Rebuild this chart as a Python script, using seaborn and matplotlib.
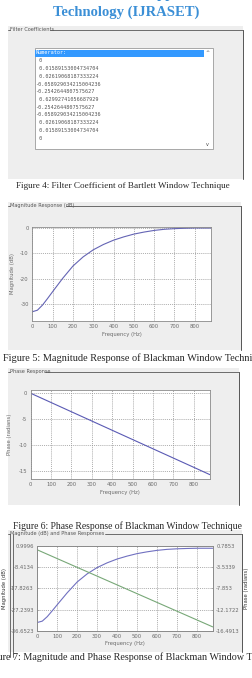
#-- Bartlett / Blackman window FIR filter page (scanned figures 4-7) --#

import numpy as np
import pandas as pd
import matplotlib
matplotlib.use("Agg")
import matplotlib.pyplot as plt
import seaborn as sns
from matplotlib.patches import Rectangle

# filter coefficients shown in the list box (figure 4)
coef_rows = ["Numerator:", " 0", " 0.01589153004734704", " 0.02619068187333224",
             "-0.058929034215004236", "-0.2542644807575627", " 0.62992741056687929",
             "-0.2542644807575627", "-0.058929034215004236", " 0.02619068187333224",
             " 0.01589153004734704", " 0"]

# magnitude response (figures 5 and 7)
freq_hz = [0, 25, 50, 75, 100, 150, 200, 250, 300, 350, 400, 450, 500,
           550, 600, 650, 700, 750, 800, 880]
mag_db = [-33.0, -32.4, -30.4, -27.8, -25.1, -19.8, -15.0, -11.4, -8.6, -6.5,
          -4.8, -3.5, -2.4, -1.6, -0.95, -0.5, -0.25, -0.1, 0.0, 0.0]

# phase response (linear phase), figures 6 and 7
phase_freq = [0, 880]
phase_rad = [0.0, -15.71]

freq_ticks = [0, 100, 200, 300, 400, 500, 600, 700, 800]
mag_ticks_5 = [0, -10, -20, -30]
phase_ticks_6 = [0, -5, -10, -15]
mag_ticks_7 = [0.9996, -8.4134, -17.8263, -27.2393, -36.6523]
phase_ticks_7 = [0.7853, -3.5339, -7.853, -12.1722, -16.4913]

captions = ["Figure 4: Filter Coefficient of Bartlett Window Technique",
            "Figure 5: Magnitude Response of Blackman Window Technique",
            "Figure 6: Phase Response of Blackman Window Technique",
            "Figure 7: Magnitude and Phase Response of Blackman Window Technique"]

mag_df = pd.DataFrame({"freq": freq_hz, "mag": mag_db})
phase_df = pd.DataFrame({"freq": phase_freq, "phase": phase_rad})

sns.set_style("white")
plt.rcParams["font.family"] = ["DejaVu Sans"]
plt.rcParams["axes.unicode_minus"] = False

W, H = 252, 678
fig = plt.figure(figsize=(W / 100, H / 100), dpi=100)
fig.patch.set_facecolor("white")

# page layer in pixel coords
bg = fig.add_axes([0, 0, 1, 1])
bg.set_xlim(0, W)
bg.set_ylim(H, 0)
bg.axis("off")

PANEL = "#eeeeee"
SERIF = "Liberation Serif"
TINY = 3.8
GRAYTXT = "#6a6a6a"


def px_axes(x0, y0, x1, y1):
    return fig.add_axes([x0 / W, 1 - y1 / H, (x1 - x0) / W, (y1 - y0) / H])


def group_box(x0, y0, x1, y1, label, label_end):
    bg.add_patch(Rectangle((x0, y0), x1 - x0, y1 - y0, color=PANEL, lw=0))
    bg.plot([x0, x0 + 2], [y0 + 4, y0 + 4], color="#555555", lw=0.6)
    bg.text(x0 + 2.5, y0 + 3.5, label, fontsize=3.6, color="#555555", va="center")
    bg.plot([label_end, x1], [y0 + 4, y0 + 4], color="#555555", lw=0.6)
    bg.plot([x1, x1], [y0 + 4, y1], color="#555555", lw=0.7)


def style_axes(ax, xticks, yticks, ylim):
    ax.set_facecolor("white")
    ax.set_xlim(0, 880)
    ax.set_ylim(*ylim)
    ax.set_xticks(xticks)
    ax.set_yticks(yticks)
    ax.grid(True, linestyle=(0, (1.5, 1.5)), color="#8f8f8f", lw=0.5)
    for s in ax.spines.values():
        s.set_color("#8a8a8a")
        s.set_linewidth(0.6)
    ax.tick_params(labelsize=TINY, labelcolor=GRAYTXT, length=1.5, width=0.4,
                   direction="in", pad=2.5, color="#8a8a8a")
    ax.set_xlabel("Frequency (Hz)", fontsize=TINY, color=GRAYTXT, labelpad=1.5)


# --- header (first line mostly cut by the page edge) ---
bg.text(126, -5.5, "International Journal for Research in Applied Science & Engineering",
        fontsize=10.5, family=SERIF, weight="bold", color="#3b8fd6", ha="center", va="center")
bg.text(126, 12, "Technology (IJRASET)", fontsize=10.5, family=SERIF, weight="bold",
        color="#3b8fd6", ha="center", va="center")

# --- figure 4: filter coefficient list ---
group_box(8, 26, 243, 179, "Filter Coefficients", 50)
bg.add_patch(Rectangle((34.5, 48), 178.2, 101, facecolor="white", edgecolor="#9a9a9a", lw=0.6))
bg.add_patch(Rectangle((35, 49.5), 169, 7, color="#3399ff", lw=0))
bg.text(207.5, 53, "^", fontsize=3.5, color="#444444", ha="center", va="center")
bg.text(207.5, 144, "v", fontsize=3.5, color="#444444", ha="center", va="center")
for i, row in enumerate(coef_rows):
    bg.text(35.5, 53 + i * 7.75 if i else 53, row, fontsize=3.7, family="DejaVu Sans Mono",
            color="white" if i == 0 else "#555555", va="center")
bg.text(16, 186, captions[0], fontsize=6.6, family=SERIF, va="center")

# --- figure 5: magnitude response ---
group_box(8, 202, 241, 350, "Magnitude Response (dB)", 66)
ax5 = px_axes(32.3, 227, 211, 321)
sns.lineplot(data=mag_df, x="freq", y="mag", ax=ax5, color="#6464b4", lw=0.8)
style_axes(ax5, freq_ticks, mag_ticks_5, (-36.65, 0.4))
ax5.set_ylabel("Magnitude (dB)", fontsize=TINY, color=GRAYTXT, labelpad=4)
bg.text(3, 358, captions[1], fontsize=7.4, family=SERIF, va="center")

# --- figure 6: phase response ---
group_box(8, 368, 239, 505, "Phase Response", 45)
ax6 = px_axes(30.7, 390, 210, 479)
sns.lineplot(data=phase_df, x="freq", y="phase", ax=ax6, color="#5a5ab4", lw=0.8)
style_axes(ax6, freq_ticks, phase_ticks_6, (-16.54, 0.63))
ax6.set_ylabel("Phase (radians)", fontsize=TINY, color=GRAYTXT, labelpad=5)
bg.text(13, 526, captions[2], fontsize=6.95, family=SERIF, va="center")

# --- figure 7: magnitude and phase ---
group_box(8, 530, 242, 652, "Magnitude (dB) and Phase Responses", 105)
bg.plot([10, 10], [534, 657], color="#555555", lw=0.6)
bg.plot([12.5, 12.5], [534, 657], color="#555555", lw=0.6)
ax7 = px_axes(37.3, 546, 212.7, 630.7)
sns.lineplot(data=mag_df, x="freq", y="mag", ax=ax7, color="#7070c0", lw=0.8)
style_axes(ax7, freq_ticks, mag_ticks_7, (mag_ticks_7[-1], mag_ticks_7[0]))
ax7.set_yticklabels([f"{v:g}" for v in mag_ticks_7])
ax7.set_ylabel("Magnitude (dB)", fontsize=TINY, color="#333333", labelpad=2)
ax7b = ax7.twinx()
sns.lineplot(data=phase_df, x="freq", y="phase", ax=ax7b, color="#78a878", lw=0.8)
ax7b.set_ylim(phase_ticks_7[-1], phase_ticks_7[0])
ax7b.set_yticks(phase_ticks_7)
ax7b.set_yticklabels([f"{v:g}" for v in phase_ticks_7])
ax7b.tick_params(labelsize=TINY, labelcolor=GRAYTXT, length=1.5, width=0.4,
                 direction="in", pad=2.5, color="#8a8a8a")
ax7b.set_ylabel("Phase (radians)", fontsize=TINY, color="#333333", labelpad=3)
for s in ax7b.spines.values():
    s.set_color("#8a8a8a")
    s.set_linewidth(0.6)
bg.text(136, 657, captions[3], fontsize=7.3, family=SERIF, ha="center", va="center")

fig.savefig("out.png", dpi=100)
